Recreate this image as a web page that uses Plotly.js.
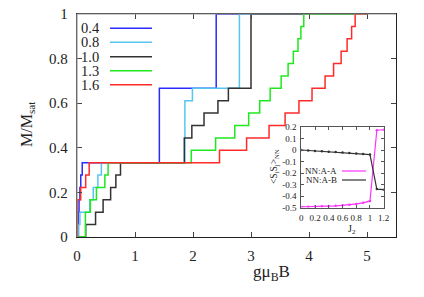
<!DOCTYPE html>
<html><head><meta charset="utf-8">
<script src="https://cdn.plot.ly/plotly-3.0.1.min.js"></script>
<style>html,body{margin:0;padding:0;background:#fff}#chart{width:424px;height:297px}</style>
</head><body><div id="chart"></div>
<script>
// ---- Main panel: M/Msat vs g muB B (step curves; field where M jumps, M after jump) ----
const seriesNames = ['0.4', '0.8', '1.0', '1.3', '1.6'];
const seriesColors = ['#2b2bff', '#55c6f2', '#333333', '#1fe81f', '#ff2a2a'];

const field04 = [0, 0.005, 0.02, 0.035, 0.05, 0.065, 0.09, 1.42, 2.40, 5.0];
const mag04   = [0, 0.056, 0.111, 0.167, 0.222, 0.278, 0.333, 0.667, 1, 1];

const field08 = [0, 0.03, 0.05, 0.22, 0.28, 0.36, 0.42, 1.86, 1.99, 2.80, 5.0];
const mag08   = [0, 0.056, 0.111, 0.167, 0.222, 0.278, 0.333, 0.611, 0.667, 1, 1];

const field10 = [0, 0.15, 0.32, 0.45, 0.58, 0.67, 0.75, 1.85, 1.98, 2.19, 2.43, 2.61, 3.0, 5.0];
const mag10   = [0, 0.056, 0.111, 0.167, 0.222, 0.278, 0.333, 0.444, 0.5, 0.556, 0.611, 0.667, 1, 1];

const field13 = [0, 0.145, 0.23, 0.335, 0.48, 0.536, 1.97, 2.39, 2.72, 2.96, 3.15, 3.33, 3.52, 3.64, 3.73, 3.81, 3.86, 3.91, 5.0];
const mag13   = [0, 0.111, 0.167, 0.222, 0.278, 0.333, 0.389, 0.444, 0.5, 0.556, 0.611, 0.667, 0.722, 0.778, 0.833, 0.889, 0.944, 1, 1];

const field16 = [0, 0.007, 0.064, 0.15, 0.21, 2.457, 2.924, 3.311, 3.588, 3.827, 4.052, 4.277, 4.424, 4.554, 4.657, 4.735, 4.796, 5.0];
const mag16   = [0, 0.167, 0.222, 0.278, 0.333, 0.389, 0.444, 0.5, 0.556, 0.611, 0.667, 0.722, 0.778, 0.833, 0.889, 0.944, 1, 1];

const mainXTickVals = [0, 1, 2, 3, 4, 5];
const mainXTickText = ['0', '1', '2', '3', '4', '5'];
const mainYTickVals = [0, 0.2, 0.4, 0.6, 0.8, 1];
const mainYTickText = ['0', '0.2', '0.4', '0.6', '0.8', '1'];

// ---- Inset: nearest-neighbour correlations vs J2 ----
const j2Values = [0, 0.1, 0.2, 0.3, 0.4, 0.5, 0.6, 0.7, 0.8, 0.9, 1.0, 1.1, 1.2];
const corrAA = [-0.495, -0.494, -0.492, -0.490, -0.488, -0.485, -0.481, -0.476, -0.469, -0.459, -0.443, 0.172, 0.176];
const corrAB = [0.0, -0.004, -0.008, -0.011, -0.015, -0.018, -0.022, -0.026, -0.030, -0.034, -0.040, -0.340, -0.345];
const insetNames = ['NN:A-A', 'NN:A-B'];
const insetColors = ['#ff33ff', '#333333'];
const insetXTickVals = [0, 0.2, 0.4, 0.6, 0.8, 1.0, 1.2];
const insetXTickText = ['0', '0.2', '0.4', '0.6', '0.8', '1', '1.2'];
const insetYTickVals = [0.2, 0.1, 0, -0.1, -0.2, -0.3, -0.4, -0.5];
const insetYTickText = ['0.2', '0.1', '0', '-0.1', '-0.2', '-0.3', '-0.4', '-0.5'];

const fields = [field04, field08, field10, field13, field16];
const mags = [mag04, mag08, mag10, mag13, mag16];

const FONT = 'Liberation Serif, Times New Roman, serif';
const traces = [];
for (let i = 0; i < seriesNames.length; i++) {
  traces.push({
    type: 'scatter', mode: 'lines', name: seriesNames[i],
    x: fields[i], y: mags[i], xaxis: 'x', yaxis: 'y',
    line: {color: seriesColors[i], width: 1.5, shape: 'hv'},
    showlegend: false, hoverinfo: 'skip'
  });
}
const insetData = [corrAA, corrAB];
for (let k = 0; k < 2; k++) {
  traces.push({
    type: 'scatter', mode: 'lines+markers', name: insetNames[k],
    x: j2Values, y: insetData[k], xaxis: 'x3', yaxis: 'y3',
    line: {color: insetColors[k], width: 1.2},
    marker: {color: insetColors[k], size: 2.5},
    showlegend: false, hoverinfo: 'skip'
  });
}

// plot area: x 77..396, y 14..237
const PL = 77, PR = 396, PT = 14, PB = 237;
const px = v => (v - PL) / (PR - PL);
const py = v => (PB - v) / (PB - PT);

const annotations = [];
const shapes = [];
const legendY = [28.3, 42.3, 56.7, 70.7, 84.7];
for (let i = 0; i < seriesNames.length; i++) {
  annotations.push({xref: 'paper', yref: 'paper', x: px(80), y: py(legendY[i]),
    xanchor: 'left', yanchor: 'middle', text: seriesNames[i], showarrow: false, borderpad: 0,
    font: {family: FONT, size: 14.5, color: '#222'}});
  shapes.push({type: 'line', xref: 'paper', yref: 'paper', x0: px(110), x1: px(152),
    y0: py(legendY[i]), y1: py(legendY[i]), line: {color: seriesColors[i], width: 1.5}});
}
const insetLegY = [171, 180];
for (let k = 0; k < 2; k++) {
  annotations.push({xref: 'paper', yref: 'paper', x: px(338), y: py(insetLegY[k]),
    xanchor: 'right', yanchor: 'middle', text: insetNames[k], showarrow: false, borderpad: 0,
    font: {family: FONT, size: 9, color: '#222'}});
  shapes.push({type: 'line', xref: 'paper', yref: 'paper', x0: px(342), x1: px(366),
    y0: py(insetLegY[k]), y1: py(insetLegY[k]), line: {color: insetColors[k], width: 1.2}});
}
// gray top and left frame edges
shapes.push({type: 'line', xref: 'paper', yref: 'paper', x0: 0, x1: 1, y0: 1, y1: 1, line: {color: '#9a9a9a', width: 1.2}, layer: 'above'});
shapes.push({type: 'line', xref: 'paper', yref: 'paper', x0: 0, x1: 0, y0: 0, y1: 1, line: {color: '#9a9a9a', width: 1.2}, layer: 'above'});

annotations.push({xref: 'paper', yref: 'paper', x: px(271), y: py(273), xanchor: 'center', yanchor: 'middle',
  text: 'gμ<sub>B</sub>B', showarrow: false, font: {family: FONT, size: 17, color: '#222'}});
annotations.push({xref: 'paper', yref: 'paper', x: px(27), y: py(124), xanchor: 'center', yanchor: 'middle',
  text: 'M/M<sub>sat</sub>', textangle: -90, showarrow: false, font: {family: FONT, size: 16, color: '#222'}});
annotations.push({xref: 'paper', yref: 'paper', x: px(352), y: py(229), xanchor: 'center', yanchor: 'middle',
  text: 'J<sub>2</sub>', showarrow: false, font: {family: FONT, size: 10, color: '#222'}});
annotations.push({xref: 'paper', yref: 'paper', x: px(274), y: py(167), xanchor: 'center', yanchor: 'middle',
  text: '&lt;S<sub>i</sub>S<sub>j</sub>&gt;<sub>NN</sub>', textangle: -90, showarrow: false, font: {family: FONT, size: 9.5, color: '#222'}});

const layout = {
  width: 424, height: 297,
  font: {family: FONT, color: '#222'},
  margin: {l: PL, r: 424 - PR, t: PT, b: 297 - PB},
  paper_bgcolor: '#fff', plot_bgcolor: '#fff',
  showlegend: false,
  xaxis: {domain: [0, 1], range: [0, 5.5], tickmode: 'array', tickvals: mainXTickVals, ticktext: mainXTickText,
    ticks: 'inside', ticklen: 5, tickcolor: '#444', showline: true, linecolor: '#222', linewidth: 1.2, mirror: 'ticks',
    showgrid: false, zeroline: false, tickfont: {family: FONT, size: 15, color: '#222'}, ticklabelstandoff: 5},
  yaxis: {domain: [0, 1], range: [0, 1], tickmode: 'array', tickvals: mainYTickVals, ticktext: mainYTickText,
    ticks: 'inside', ticklen: 5, tickcolor: '#444', showline: true, linecolor: '#222', linewidth: 1.2, mirror: 'ticks',
    showgrid: false, zeroline: false, tickfont: {family: FONT, size: 15, color: '#222'}, ticklabelstandoff: 5},
  xaxis3: {domain: [px(301.3), px(383.7)], anchor: 'y3', range: [0, 1.2], tickmode: 'array',
    tickvals: insetXTickVals, ticktext: insetXTickText, ticks: 'inside', ticklen: 3, tickcolor: '#555', tickangle: 0,
    showline: true, linecolor: '#555', linewidth: 1, mirror: 'ticks', showgrid: false, zeroline: false,
    tickfont: {family: FONT, size: 9, color: '#222'}, ticklabelstandoff: 2},
  yaxis3: {domain: [py(207.5), py(127)], anchor: 'x3', range: [-0.5, 0.2], tickmode: 'array',
    tickvals: insetYTickVals, ticktext: insetYTickText, ticks: 'inside', ticklen: 3, tickcolor: '#555',
    showline: true, linecolor: '#555', linewidth: 1, mirror: 'ticks', showgrid: false, zeroline: false,
    tickfont: {family: FONT, size: 9, color: '#222'}, ticklabelstandoff: 2},
  annotations: annotations,
  shapes: shapes
};
Plotly.newPlot('chart', traces, layout, {staticPlot: true, displayModeBar: false});
</script></body></html>
